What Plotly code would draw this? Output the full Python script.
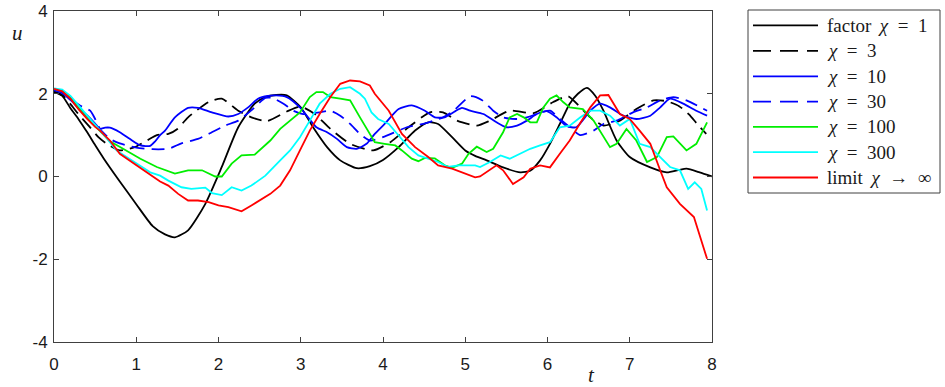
import plotly.graph_objects as go

# ---------------- data ----------------
names = ["factor\u2009 <i>χ</i>\u2002=\u20021", "<i>χ</i>\u2002=\u20023", "<i>χ</i>\u2002=\u200210",
         "<i>χ</i>\u2002=\u200230", "<i>χ</i>\u2002=\u2002100", "<i>χ</i>\u2002=\u2002300",
         "limit\u2009 <i>χ</i>\u2002→\u2002∞"]

t_chi1 = [0, 0.1, 0.2, 0.3, 0.4, 0.5, 0.6, 0.8, 1.0, 1.2, 1.35, 1.47, 1.63, 1.84, 2.04, 2.24, 2.44, 2.57,
          2.7, 2.83, 3.0, 3.15, 3.32, 3.48, 3.68, 3.84, 4.0, 4.19, 4.39, 4.55, 4.67, 4.84, 5.0, 5.12, 5.26,
          5.46, 5.67, 5.79, 5.91, 6.03, 6.15, 6.27, 6.37, 6.48, 6.58, 6.68, 6.84, 7.0, 7.25, 7.45, 7.6,
          7.69, 7.85, 8.0]
u_chi1 = [2.05, 1.95, 1.65, 1.38, 1.08, 0.76, 0.45, -0.12, -0.67, -1.2, -1.4, -1.47, -1.3, -0.66, 0.23,
          1.19, 1.76, 1.92, 1.97, 1.96, 1.67, 1.19, 0.71, 0.39, 0.2, 0.25, 0.4, 0.71, 1.11, 1.31, 1.27,
          0.95, 0.63, 0.5, 0.39, 0.22, 0.1, 0.14, 0.39, 0.79, 1.27, 1.76, 2.0, 2.14, 1.95, 1.59, 0.87,
          0.47, 0.22, 0.1, 0.16, 0.19, 0.1, 0.0]

t_chi3 = [0, 0.1, 0.2, 0.3, 0.42, 0.54, 0.64, 0.8, 0.98, 1.13, 1.25, 1.39, 1.5, 1.63, 1.88, 2.04, 2.24,
          2.4, 2.59, 2.83, 3.0, 3.17, 3.36, 3.6, 3.88, 4.09, 4.31, 4.57, 4.73, 4.9, 5.14, 5.3, 5.54, 5.83,
          6.07, 6.25, 6.4, 6.52, 6.68, 6.88, 7.08, 7.29, 7.45, 7.6, 7.72, 7.82, 7.93]
u_chi3 = [2.05, 1.97, 1.75, 1.5, 1.23, 0.95, 0.79, 0.63, 0.71, 0.87, 1.0, 1.03, 1.15, 1.43, 1.8, 1.88,
          1.59, 1.43, 1.34, 1.57, 1.69, 1.51, 1.15, 0.79, 0.63, 0.83, 1.19, 1.55, 1.55, 1.35, 1.23, 1.35,
          1.59, 1.53, 1.8, 1.94, 1.67, 1.43, 1.23, 1.35, 1.63, 1.84, 1.82, 1.7, 1.5, 1.27, 1.03]

t_chi10 = [0, 0.1, 0.2, 0.3, 0.4, 0.5, 0.56, 0.62, 0.68, 0.8, 0.92, 1.05, 1.17, 1.23, 1.29, 1.35, 1.47,
           1.63, 1.75, 1.92, 2.12, 2.24, 2.36, 2.48, 2.6, 2.7, 2.83, 2.99, 3.19, 3.32, 3.44, 3.56, 3.68,
           3.8, 3.9, 4.02, 4.19, 4.35, 4.51, 4.63, 4.75, 4.88, 4.96, 5.06, 5.22, 5.38, 5.5, 5.63, 5.75,
           5.87, 5.99, 6.11, 6.23, 6.35, 6.52, 6.64, 6.76, 6.92, 7.08, 7.25, 7.37, 7.49, 7.65, 7.81, 7.94]
u_chi10 = [2.08, 2.02, 1.85, 1.65, 1.48, 1.28, 1.15, 1.18, 1.18, 1.07, 0.91, 0.75, 0.74, 0.85, 1.0, 1.11,
           1.43, 1.66, 1.66, 1.55, 1.45, 1.51, 1.67, 1.88, 1.95, 1.96, 1.92, 1.67, 1.19, 1.07, 0.91, 0.71,
           0.67, 0.79, 1.03, 1.27, 1.63, 1.72, 1.59, 1.43, 1.43, 1.58, 1.66, 1.59, 1.51, 1.31, 1.19, 1.23,
           1.35, 1.51, 1.58, 1.43, 1.22, 1.19, 1.59, 1.76, 1.67, 1.47, 1.39, 1.47, 1.67, 1.88, 1.76, 1.59,
           1.47]

t_chi30 = [0, 0.1, 0.2, 0.32, 0.44, 0.5, 0.56, 0.68, 0.8, 1.0, 1.2, 1.39, 1.55, 1.75, 1.88, 2.08, 2.24,
           2.4, 2.57, 2.65, 2.79, 2.91, 3.03, 3.23, 3.36, 3.48, 3.6, 3.72, 3.84, 4.0, 4.29, 4.49, 4.73,
           4.86, 5.06, 5.2, 5.34, 5.46, 5.63, 5.75, 5.87, 6.03, 6.15, 6.27, 6.4, 6.56, 6.68, 6.84, 7.04,
           7.21, 7.37, 7.53, 7.69, 7.94]
u_chi30 = [2.1, 2.02, 1.88, 1.71, 1.59, 1.39, 1.15, 0.91, 0.8, 0.7, 0.66, 0.67, 0.8, 0.91, 1.03, 1.23,
           1.35, 1.6, 1.9, 1.9, 1.76, 1.59, 1.51, 1.55, 1.59, 1.47, 1.27, 1.03, 0.87, 0.95, 1.19, 1.27,
           1.43, 1.59, 1.94, 1.85, 1.59, 1.43, 1.39, 1.43, 1.51, 1.59, 1.39, 1.19, 1.0, 1.11, 1.27, 1.35,
           1.55, 1.67, 1.84, 1.92, 1.84, 1.59]

t_chi100 = [0, 0.1, 0.2, 0.3, 0.4, 0.5, 0.6, 0.68, 0.84, 1.05, 1.25, 1.47, 1.63, 1.8, 1.96, 2.04, 2.16,
            2.28, 2.44, 2.5, 2.63, 2.75, 2.87, 2.99, 3.11, 3.19, 3.27, 3.36, 3.48, 3.6, 3.72, 3.8, 3.9,
            4.02, 4.15, 4.23, 4.35, 4.43, 4.51, 4.63, 4.75, 4.84, 4.96, 5.04, 5.14, 5.26, 5.34, 5.46,
            5.54, 5.63, 5.71, 5.79, 5.87, 5.95, 6.03, 6.11, 6.19, 6.27, 6.43, 6.56, 6.68, 6.76, 6.84,
            6.96, 7.08, 7.21, 7.33, 7.45, 7.53, 7.69, 7.81, 7.94]
u_chi100 = [2.12, 2.07, 1.9, 1.65, 1.42, 1.22, 1.02, 0.85, 0.67, 0.43, 0.23, 0.07, 0.15, 0.15, 0.0, 0.0,
            0.31, 0.51, 0.53, 0.63, 0.87, 1.15, 1.35, 1.55, 1.92, 2.04, 2.04, 1.92, 1.88, 1.84, 1.43,
            1.15, 0.83, 0.79, 0.75, 0.63, 0.43, 0.37, 0.45, 0.44, 0.27, 0.21, 0.31, 0.55, 0.72, 0.59,
            0.67, 1.07, 1.43, 1.51, 1.43, 1.31, 1.31, 1.67, 1.88, 1.96, 1.8, 1.67, 1.63, 1.35, 0.95,
            0.71, 0.79, 1.15, 0.87, 0.35, 0.47, 0.95, 0.97, 0.63, 0.79, 1.31]

t_chi300 = [0, 0.1, 0.2, 0.3, 0.4, 0.5, 0.6, 0.76, 0.96, 1.17, 1.29, 1.39, 1.55, 1.67, 1.84, 1.92, 2.04,
            2.16, 2.28, 2.4, 2.57, 2.63, 2.75, 2.87, 2.99, 3.11, 3.23, 3.36, 3.48, 3.6, 3.72, 3.78, 3.86,
            3.94, 4.07, 4.19, 4.31, 4.43, 4.55, 4.67, 4.79, 4.92, 5.12, 5.18, 5.3, 5.43, 5.54, 5.67,
            5.79, 5.91, 6.03, 6.15, 6.27, 6.4, 6.52, 6.64, 6.76, 6.88, 7.0, 7.12, 7.25, 7.37, 7.49, 7.61,
            7.71, 7.79, 7.87, 7.94]
u_chi300 = [2.13, 2.1, 1.95, 1.72, 1.48, 1.25, 1.02, 0.63, 0.37, 0.1, 0.02, -0.1, -0.26, -0.3, -0.27,
            -0.4, -0.45, -0.26, -0.34, -0.22, 0.02, 0.15, 0.39, 0.63, 0.95, 1.35, 1.76, 2.0, 2.12, 2.16,
            2.0, 1.88, 1.55, 1.39, 1.27, 0.99, 0.71, 0.51, 0.43, 0.35, 0.23, 0.27, 0.27, 0.23, 0.35,
            0.51, 0.43, 0.55, 0.67, 0.75, 0.83, 1.19, 1.23, 1.43, 1.59, 1.59, 1.47, 1.23, 1.39, 0.79,
            0.71, 0.47, 0.23, 0.15, -0.3, -0.14, -0.3, -0.82]

t_limit = [0, 0.1, 0.2, 0.3, 0.4, 0.5, 0.56, 0.68, 0.8, 0.96, 1.13, 1.29, 1.39, 1.51, 1.63, 1.75, 1.88,
           2.0, 2.12, 2.28, 2.4, 2.57, 2.63, 2.75, 2.87, 2.99, 3.11, 3.23, 3.36, 3.48, 3.6, 3.72, 3.84,
           3.9, 4.07, 4.23, 4.39, 4.55, 4.67, 4.84, 4.96, 5.12, 5.18, 5.26, 5.38, 5.46, 5.58, 5.71, 5.79,
           5.91, 6.03, 6.15, 6.27, 6.4, 6.52, 6.64, 6.74, 6.88, 7.0, 7.12, 7.25, 7.37, 7.45, 7.61, 7.78,
           7.94]
u_limit = [2.12, 2.06, 1.88, 1.62, 1.4, 1.2, 1.11, 0.87, 0.55, 0.33, 0.1, -0.12, -0.22, -0.42, -0.58,
           -0.58, -0.62, -0.7, -0.74, -0.84, -0.7, -0.5, -0.42, -0.22, 0.15, 0.63, 1.11, 1.51, 1.92,
           2.24, 2.32, 2.3, 2.2, 2.0, 1.59, 1.03, 0.71, 0.47, 0.27, 0.19, 0.1, -0.02, 0.0, 0.1, 0.27,
           0.15, -0.18, -0.02, 0.19, 0.27, 0.22, 0.55, 0.87, 1.3, 1.67, 1.96, 1.97, 1.51, 1.39, 1.11,
           0.79, 0.15, -0.26, -0.66, -0.98, -1.99]

x_ticks = [0, 1, 2, 3, 4, 5, 6, 7, 8]
x_ticktext = ["0", "1", "2", "3", "4", "5", "6", "7", "8"]
y_ticks = [-4, -2, 0, 2, 4]
y_ticktext = ["-4", "-2", "0", "2", "4"]

# ---------------- styles ----------------
series = [
    (t_chi1, u_chi1, "#000000", "solid", "spline"),
    (t_chi3, u_chi3, "#000000", "13px,7px", "spline"),
    (t_chi10, u_chi10, "#0000ff", "solid", "spline"),
    (t_chi30, u_chi30, "#0000ff", "13px,7px", "spline"),
    (t_chi100, u_chi100, "#00ee00", "solid", "linear"),
    (t_chi300, u_chi300, "#00ffff", "solid", "linear"),
    (t_limit, u_limit, "#ff0000", "solid", "linear"),
]

W, H = 945, 387
ML, MR, MT, MB = 54, 233, 11, 45
PW, PH = W - ML - MR, H - MT - MB

def px(x):
    return (x - ML) / PW

def py(y):
    return (H - MB - y) / PH

fig = go.Figure()
for (tt, uu, col, dash, shape), nm in zip(series, names):
    fig.add_trace(go.Scatter(x=tt, y=uu, mode="lines", name=nm, showlegend=False,
                             line=dict(color=col, width=1.8, dash=dash, shape=shape, smoothing=0.6)))

axis_common = dict(showline=True, linecolor="#404040", linewidth=1, mirror="ticks",
                   ticks="inside", ticklen=5, tickcolor="#404040", showgrid=False, zeroline=False,
                   automargin=False,
                   tickfont=dict(family="Liberation Sans, Arial, sans-serif", size=17, color="#1a1a1a"))

fig.update_layout(
    template="none",
    width=W, height=H,
    margin=dict(l=ML, r=MR, t=MT, b=MB, pad=0, autoexpand=False),
    paper_bgcolor="white", plot_bgcolor="white",
    xaxis=dict(range=[0, 8], tickvals=x_ticks, ticktext=x_ticktext, ticklabelstandoff=7, **axis_common),
    yaxis=dict(range=[-4, 4], tickvals=y_ticks, ticktext=y_ticktext, ticklabelstandoff=2, **axis_common),
    showlegend=False,
)

serif = "Liberation Serif, DejaVu Serif, serif"
# axis labels
fig.add_annotation(xref="paper", yref="paper", x=px(17), y=py(33), text="<i>u</i>", showarrow=False,
                   xanchor="center", yanchor="middle",
                   font=dict(family=serif, size=21, color="#1a1a1a"))
fig.add_annotation(xref="paper", yref="paper", x=px(591), y=py(375), text="<i>t</i>", showarrow=False,
                   xanchor="center", yanchor="middle",
                   font=dict(family=serif, size=21, color="#1a1a1a"))

# legend box (drawn)
fig.add_shape(type="rect", xref="paper", yref="paper", x0=px(748), x1=px(940), y0=py(10), y1=py(193),
              line=dict(color="#404040", width=1), fillcolor="white", layer="above")
row_y = [25.3, 50.8, 76.3, 101.6, 126.9, 152.2, 177.5]
for (tt, uu, col, dash, shape), nm, ry in zip(series, names, row_y):
    fig.add_shape(type="line", xref="paper", yref="paper", x0=px(753), x1=px(818), y0=py(ry), y1=py(ry),
                  line=dict(color=col, width=1.8, dash=("18px,9px" if dash != "solid" else "solid")),
                  layer="above")
    fig.add_annotation(xref="paper", yref="paper", x=px(825), y=py(ry), text=nm, showarrow=False,
                       xanchor="left", yanchor="middle",
                       font=dict(family=serif, size=19, color="#1a1a1a"))

fig.write_html("out.html", config={"displayModeBar": False},
               post_script="document.body.style.margin='0';")
